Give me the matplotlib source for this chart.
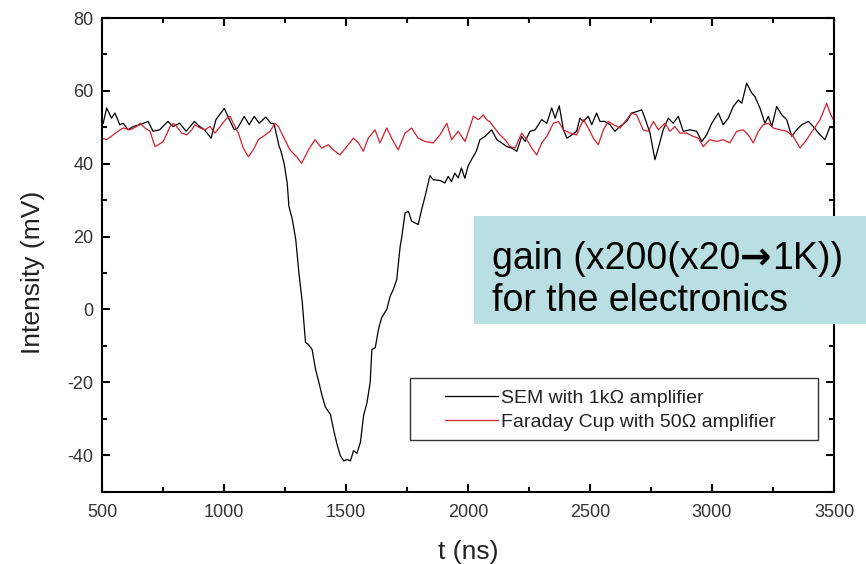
import matplotlib
matplotlib.use("Agg")
from matplotlib import pyplot as plt
from matplotlib.patches import Rectangle
from matplotlib.ticker import MultipleLocator
from matplotlib.offsetbox import TextArea, HPacker, VPacker, AnchoredOffsetbox

# SEM signal (black)
sem_t = [505, 519, 539, 553, 573, 587, 607, 628, 655, 689, 709, 736, 770, 791, 818, 845,
         879, 900, 920, 947, 967, 1001, 1022, 1042, 1056, 1083, 1103, 1124, 1144, 1171, 1192,
         1205, 1226, 1232, 1246, 1259, 1266, 1280, 1294, 1307, 1321, 1334, 1345, 1361, 1375,
         1389, 1402, 1416, 1436, 1450, 1463, 1477, 1491, 1504, 1518, 1531, 1545, 1559, 1572,
         1586, 1599, 1606, 1620, 1633, 1646, 1667, 1681, 1694, 1708, 1722, 1728, 1742, 1756,
         1769, 1796, 1810, 1824, 1844, 1858, 1885, 1905, 1919, 1932, 1946, 1960, 1973, 1987,
         2000, 2014, 2034, 2049, 2070, 2097, 2118, 2138, 2159, 2179, 2200, 2220, 2234, 2254,
         2275, 2302, 2323, 2343, 2357, 2374, 2391, 2405, 2425, 2445, 2459, 2473, 2493, 2507,
         2527, 2541, 2561, 2582, 2602, 2623, 2650, 2671, 2691, 2712, 2725, 2746, 2760, 2766,
         2780, 2800, 2821, 2841, 2862, 2882, 2910, 2937, 2958, 2978, 2999, 3026, 3046, 3067,
         3087, 3108, 3122, 3142, 3163, 3176, 3197, 3217, 3231, 3245, 3265, 3286, 3306, 3327,
         3347, 3368, 3395, 3415, 3443, 3463, 3484, 3497]
sem_v = [51.1, 55.3, 52.5, 53.9, 50.7, 51.1, 49.3, 50.2, 50.7, 51.6, 48.9, 49.3, 51.6, 50.2,
         51.1, 48.9, 51.6, 50.2, 49.3, 47.0, 52.1, 55.2, 52.1, 49.3, 49.8, 53.0, 50.7, 53.0,
         51.1, 52.8, 51.1, 51.0, 44.7, 43.8, 40.2, 34.7, 28.3, 24.7, 19.2, 10.0, 1.8, -9.1,
         -9.6, -11.0, -16.4, -20.1, -23.7, -26.9, -28.8, -33.3, -37.0, -40.2, -41.6, -41.2,
         -41.6, -38.8, -39.5, -36.5, -29.2, -25.6, -20.1, -11.0, -10.5, -5.5, -2.3, 0.0, 3.6,
         5.5, 8.2, 17.3, 19.6, 26.5, 26.9, 24.2, 23.3, 27.4, 31.0, 36.7, 35.6, 35.4, 34.7,
         36.5, 35.1, 37.4, 36.1, 38.8, 36.0, 39.3, 41.1, 43.4, 46.6, 47.5, 49.3, 46.6, 45.7,
         44.7, 44.3, 43.4, 47.5, 46.1, 48.9, 49.3, 52.1, 51.1, 55.3, 52.5, 55.9, 49.3, 47.0,
         47.9, 48.9, 52.5, 51.6, 53.0, 50.7, 53.9, 51.6, 51.6, 50.7, 48.9, 50.2, 51.6, 53.9,
         54.3, 54.8, 52.5, 48.4, 43.4, 41.1, 44.3, 49.3, 52.5, 51.1, 53.0, 48.9, 49.3, 48.9,
         46.1, 47.9, 51.1, 53.9, 50.7, 52.5, 55.7, 57.5, 56.6, 62.1, 59.4, 58.4, 55.2, 51.1,
         53.0, 50.2, 55.7, 53.4, 52.1, 47.5, 49.3, 50.7, 51.6, 50.2, 47.9, 46.6, 50.2, 49.8]

# Faraday cup signal (red)
fc_t = [500, 519, 546, 574, 587, 615, 642, 656, 676, 697, 717, 731, 751, 779, 792, 806, 827,
        847, 868, 881, 902, 922, 943, 963, 984, 1011, 1025, 1038, 1059, 1079, 1100, 1120,
        1141, 1161, 1189, 1209, 1223, 1243, 1270, 1298, 1318, 1346, 1373, 1400, 1428, 1448,
        1475, 1503, 1530, 1551, 1571, 1591, 1619, 1639, 1667, 1687, 1714, 1742, 1769, 1796,
        1824, 1858, 1885, 1913, 1933, 1960, 1988, 2022, 2043, 2063, 2076, 2090, 2104, 2131,
        2152, 2172, 2193, 2220, 2241, 2261, 2282, 2302, 2323, 2350, 2371, 2391, 2418, 2445,
        2473, 2493, 2514, 2534, 2555, 2575, 2596, 2623, 2650, 2671, 2691, 2718, 2739, 2760,
        2780, 2807, 2828, 2848, 2869, 2896, 2923, 2944, 2964, 2991, 3019, 3046, 3073, 3101,
        3128, 3149, 3169, 3190, 3210, 3231, 3251, 3279, 3306, 3333, 3361, 3388, 3415, 3443,
        3470, 3484, 3497]
fc_v = [47.0, 46.6, 47.9, 49.3, 49.8, 49.3, 50.2, 51.1, 49.8, 48.9, 44.7, 45.2, 46.1, 50.2,
        51.1, 50.2, 48.4, 47.9, 49.3, 50.7, 49.8, 49.3, 50.2, 48.4, 50.2, 52.5, 53.0, 51.1,
        48.4, 44.3, 41.9, 43.8, 46.6, 47.5, 48.9, 51.1, 50.2, 47.5, 43.8, 41.9, 40.1, 43.8,
        46.6, 44.3, 45.2, 43.8, 42.4, 44.7, 47.0, 45.7, 43.4, 47.0, 49.3, 45.7, 49.8, 47.0,
        43.8, 48.4, 49.8, 47.0, 46.1, 45.7, 47.9, 51.1, 46.6, 48.9, 46.1, 53.0, 52.1, 53.4,
        52.1, 51.5, 50.2, 47.9, 46.6, 44.7, 44.3, 48.4, 46.6, 44.3, 42.4, 45.7, 47.5, 51.1,
        51.6, 49.3, 48.4, 47.9, 52.1, 49.8, 47.0, 45.2, 49.3, 51.6, 50.7, 49.8, 52.1, 53.9,
        53.4, 49.3, 48.9, 51.6, 49.3, 51.1, 48.9, 50.2, 48.4, 48.4, 47.5, 47.0, 44.7, 46.6,
        46.1, 46.6, 45.7, 48.9, 49.3, 47.9, 45.7, 48.9, 50.7, 51.1, 49.8, 49.3, 48.9, 47.5,
        44.3, 46.6, 49.3, 52.1, 56.6, 53.9, 52.1]

sem_label = "SEM with 1k\u03a9 amplifier"
fc_label = "Faraday Cup with 50\u03a9 amplifier"

plt.rcParams["font.family"] = ["Liberation Sans", "DejaVu Sans"]
plt.rcParams["axes.unicode_minus"] = False

fig = plt.figure(figsize=(8.66, 5.64), dpi=100)
ax = fig.add_axes([102 / 866, 1 - 491.5 / 564, 732 / 866, 473.5 / 564])

ax.plot(sem_t, sem_v, color="black", lw=0.9, label=sem_label)
ax.plot(fc_t, fc_v, color="#d0202f", lw=0.9, label=fc_label)

ax.set_xlim(500, 3500)
ax.set_ylim(-50, 80)
ax.xaxis.set_major_locator(MultipleLocator(500))
ax.xaxis.set_minor_locator(MultipleLocator(250))
ax.yaxis.set_major_locator(MultipleLocator(20))
ax.yaxis.set_minor_locator(MultipleLocator(10))
ax.tick_params(which="both", direction="in", top=True, right=True, width=1.5,
               labelsize=13, labelcolor="#333333")
ax.tick_params(which="major", length=6)
ax.tick_params(which="minor", length=3.5)
ax.tick_params(axis="x", which="both", pad=9)
ax.tick_params(axis="y", which="both", pad=6)
for s in ax.spines.values():
    s.set_linewidth(1.5)

ax.set_xlabel("t (ns)", fontsize=19, color="#222222", labelpad=14)
ax.set_ylabel("Intensity (mV)", fontsize=19, color="#222222")
ax.yaxis.set_label_coords(-57 / 732, 219.5 / 473.5)

# legend frame (wider than its contents, as in the original)
ax.add_patch(Rectangle((308 / 732, 51.5 / 473.5), 408 / 732, 62 / 473.5,
                       transform=ax.transAxes, facecolor="white", edgecolor="#333333",
                       lw=1.0, zorder=4))
leg = ax.legend(loc="center left", bbox_to_anchor=(343 / 732, 81.5 / 473.5), fontsize=14,
                frameon=False, handlelength=2.7, borderpad=0, labelspacing=0.3,
                handletextpad=0.2, borderaxespad=0)
leg.set_zorder(5)
for t in leg.get_texts():
    t.set_color("#222222")

# cyan note box drawn over the right part of the plot
fig.patches.append(Rectangle((474 / 866, 1 - 324 / 564), (866 - 474) / 866, 108 / 564,
                             transform=fig.transFigure, facecolor="#b9dfe3",
                             edgecolor="none", zorder=5))
tp = dict(fontsize=27, color="black")
line1 = HPacker(children=[TextArea("gain (x200(x20", textprops=tp),
                          TextArea("\u2192", textprops=dict(fontsize=27, color="black",
                                                           family="DejaVu Sans",
                                                           weight="bold")),
                          TextArea("1K))", textprops=tp)],
                sep=0, pad=0, align="baseline")
line2 = TextArea("for the electronics", textprops=tp)
note = VPacker(children=[line1, line2], sep=4, pad=0, align="left")
box = AnchoredOffsetbox(loc="upper left", child=note, pad=0, borderpad=0, frameon=False,
                        bbox_to_anchor=(492 / 866, 1 - 241 / 564),
                        bbox_transform=fig.transFigure)
box.set_zorder(6)
fig.add_artist(box)

fig.savefig("out.png", dpi=100)
